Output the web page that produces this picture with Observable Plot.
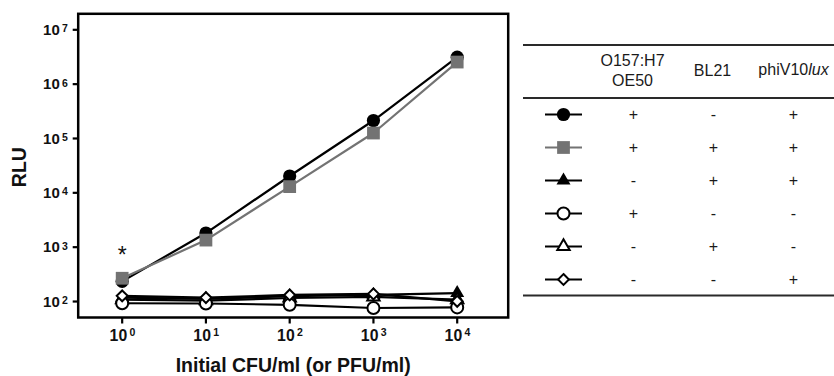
<!DOCTYPE html>
<html><head><meta charset="utf-8">
<script src="https://cdn.jsdelivr.net/npm/d3@7"></script>
<script src="https://cdn.jsdelivr.net/npm/@observablehq/plot@0.6"></script>
<style>
html,body{margin:0;padding:0;background:#fff;}
#wrap{display:flex;width:834px;height:376px;overflow:hidden;}
</style></head><body><div id="wrap"></div>
<script>
// ---------- data ----------
const cfu = [1, 10, 100, 1000, 10000];
const cfuExponents = ["0", "1", "2", "3", "4"];
const rluTicks = [100, 1e3, 1e4, 1e5, 1e6, 1e7];
const rluExponents = ["2", "3", "4", "5", "6", "7"];

const seriesNames = ["filled circle", "gray square", "filled triangle", "open circle", "open triangle", "open diamond"];
const filledCircle   = [235, 1820, 20400, 214000, 3130000];
const graySquare     = [268, 1350, 13000, 126000, 2550000];
const filledTriangle = [118, 112, 125, 132, 143];
const openCircle     = [93, 92, 87, 76, 78];
const openTriangle   = [108, 104, 116, 122, 108];
const openDiamond    = [127, 118, 132, 138, 101];
const seriesValues = [filledCircle, graySquare, filledTriangle, openCircle, openTriangle, openDiamond];

const colHeaders = ["O157:H7\nOE50", "BL21", "phiV10lux"];
const colO157 = ["+", "+", "-", "+", "-", "-"];
const colBL21 = ["-", "+", "+", "-", "+", "-"];
const colPhi  = ["+", "+", "+", "-", "-", "+"];
const annotation = "*";

// ---------- styles ----------
const gray = "#737373";
const styles = [
  {symbol: "circle",   fill: "black", stroke: "none",  strokeWidth: 0, r: 6.6, line: "black"},
  {symbol: "square",   fill: gray,    stroke: "none",  strokeWidth: 0, r: 7.2, line: gray},
  {symbol: "triangle", fill: "black", stroke: "none",  strokeWidth: 0, r: 5.2, line: "black"},
  {symbol: "circle",   fill: "white", stroke: "black", strokeWidth: 2, r: 6.0, line: "black"},
  {symbol: "triangle", fill: "white", stroke: "black", strokeWidth: 2, r: 4.6, line: "black"},
  {symbol: "diamond2", fill: "white", stroke: "black", strokeWidth: 2, r: 4.9, line: "black"}
];
const drawOrder = [2, 4, 3, 5, 0, 1];
const font = "Liberation Sans, Arial, Helvetica, sans-serif";
const ink = "#111";

const tickDown = {draw(ctx) { ctx.moveTo(0, 0); ctx.lineTo(0, 6); }};
const tickLeft = {draw(ctx) { ctx.moveTo(0, 0); ctx.lineTo(-5.5, 0); }};
const legendLine = {draw(ctx) { ctx.moveTo(-18.5, 0); ctx.lineTo(18.5, 0); }};

// ---------- chart ----------
const seriesMarks = [];
for (const k of drawOrder) {
  const vals = seriesValues[k], st = styles[k];
  seriesMarks.push(Plot.line(cfu, {x: d => d, y: (d, i) => vals[i], stroke: st.line, strokeWidth: 2.2}));
  seriesMarks.push(Plot.dot(cfu, {x: d => d, y: (d, i) => vals[i], symbol: st.symbol, r: st.r,
    fill: st.fill, stroke: st.stroke, strokeWidth: st.strokeWidth}));
}

const chart = Plot.plot({
  width: 515, height: 376,
  marginLeft: 77.7, marginRight: 7.3, marginTop: 13.3, marginBottom: 59,
  style: {fontFamily: font, background: "white", overflow: "visible"},
  x: {type: "log", domain: [0.2985, 40640], axis: null},
  y: {type: "log", domain: [50.8, 1.97e7], axis: null},
  marks: [
    ...seriesMarks,
    Plot.text([annotation], {x: () => cfu[0], y: () => graySquare[0], text: d => d, dy: -22.5, fontSize: 23,
      lineAnchor: "middle", fill: ink}),
    Plot.frame({stroke: "black", strokeWidth: 2.5}),
    // x ticks and labels
    Plot.dot(cfu, {x: d => d, frameAnchor: "bottom", symbol: tickDown, fill: "none", stroke: "black", strokeWidth: 2.2}),
    Plot.text(cfu, {x: d => d, frameAnchor: "bottom", text: () => "10", textAnchor: "end", lineAnchor: "middle",
      dx: 5, dy: 18, fontSize: 15.8, fontWeight: "bold", fill: ink}),
    Plot.text(cfu, {x: d => d, frameAnchor: "bottom", text: (d, i) => cfuExponents[i], textAnchor: "start", lineAnchor: "middle",
      dx: 7.2, dy: 15, fontSize: 10.5, fontWeight: "bold", fill: ink}),
    // y ticks and labels
    Plot.dot(rluTicks, {y: d => d, frameAnchor: "left", symbol: tickLeft, fill: "none", stroke: "black", strokeWidth: 2.2}),
    Plot.text(rluTicks, {y: d => d, frameAnchor: "left", text: () => "10", textAnchor: "end", lineAnchor: "middle",
      dx: -18.4, dy: 0.3, fontSize: 15, fontWeight: "bold", fill: ink}),
    Plot.text(rluTicks, {y: d => d, frameAnchor: "left", text: (d, i) => rluExponents[i], textAnchor: "start", lineAnchor: "middle",
      dx: -16.2, dy: -0.8, fontSize: 10.5, fontWeight: "bold", fill: ink}),
    // axis titles
    Plot.text(["RLU"], {frameAnchor: "left", text: d => d, textAnchor: "middle", lineAnchor: "middle",
      dx: -58, dy: 1.5, rotate: -90, fontSize: 19.5, fontWeight: "bold", fill: ink}),
    Plot.text(["Initial CFU/ml (or PFU/ml)"], {frameAnchor: "bottom", text: d => d, textAnchor: "middle", lineAnchor: "middle",
      dy: 48.6, fontSize: 19.5, fontWeight: "bold", fill: ink})
  ]
});

// ---------- legend table ----------
const txt = "#1a1a1a";
const tableMarks = [
  Plot.ruleY([seriesNames[0]], {dy: -69.6, stroke: "#2a2a2a", strokeWidth: 2}),
  Plot.ruleY([seriesNames[0]], {dy: -16.6, stroke: "#2a2a2a", strokeWidth: 2}),
  Plot.ruleY([seriesNames[5]], {dy: 16, stroke: "#2a2a2a", strokeWidth: 2.2}),
  Plot.text(colHeaders.slice(0, 2), {x: d => d, frameAnchor: "top", text: d => d, textAnchor: "middle", lineAnchor: "middle",
    dx: -1, dy: 26.5, lineHeight: 1.25, fontSize: 16, fill: txt}),
  Plot.text([colHeaders[2]], {x: d => d, frameAnchor: "top", text: d => d.replace("lux", ""), textAnchor: "end", lineAnchor: "middle",
    dx: 14.7, dy: 26.5, fontSize: 16, fill: txt}),
  Plot.text([colHeaders[2]], {x: d => d, frameAnchor: "top", text: () => "lux", textAnchor: "start", lineAnchor: "middle",
    dx: 14.7, dy: 26.5, fontSize: 16, fontStyle: "italic", fill: txt}),
  Plot.text(seriesNames, {x: () => colHeaders[0], y: d => d, text: (d, i) => colO157[i], fontSize: 16, fill: txt}),
  Plot.text(seriesNames, {x: () => colHeaders[1], y: d => d, text: (d, i) => colBL21[i], fontSize: 16, fill: txt}),
  Plot.text(seriesNames, {x: () => colHeaders[2], y: d => d, text: (d, i) => colPhi[i], fontSize: 16, fill: txt})
];
seriesNames.forEach((name, k) => {
  const st = styles[k];
  tableMarks.push(Plot.dot([name], {y: d => d, frameAnchor: "left", dx: 40, symbol: legendLine, fill: "none", stroke: st.line, strokeWidth: 2.2}));
  tableMarks.push(Plot.dot([name], {y: d => d, frameAnchor: "left", dx: 40, symbol: st.symbol, r: st.r,
    fill: st.fill, stroke: st.stroke, strokeWidth: st.strokeWidth}));
});

const table = Plot.plot({
  width: 319, height: 376,
  marginLeft: 8, marginRight: 0, marginTop: 42.7, marginBottom: 79.3,
  style: {fontFamily: font, background: "white", overflow: "visible"},
  x: {type: "point", domain: colHeaders, range: [117.7, 278], padding: 0, axis: null},
  y: {type: "point", domain: seriesNames, range: [112.3, 280.7], padding: 0, axis: null},
  marks: tableMarks
});

const wrap = document.getElementById("wrap");
wrap.appendChild(chart);
wrap.appendChild(table);
</script>
</body></html>
